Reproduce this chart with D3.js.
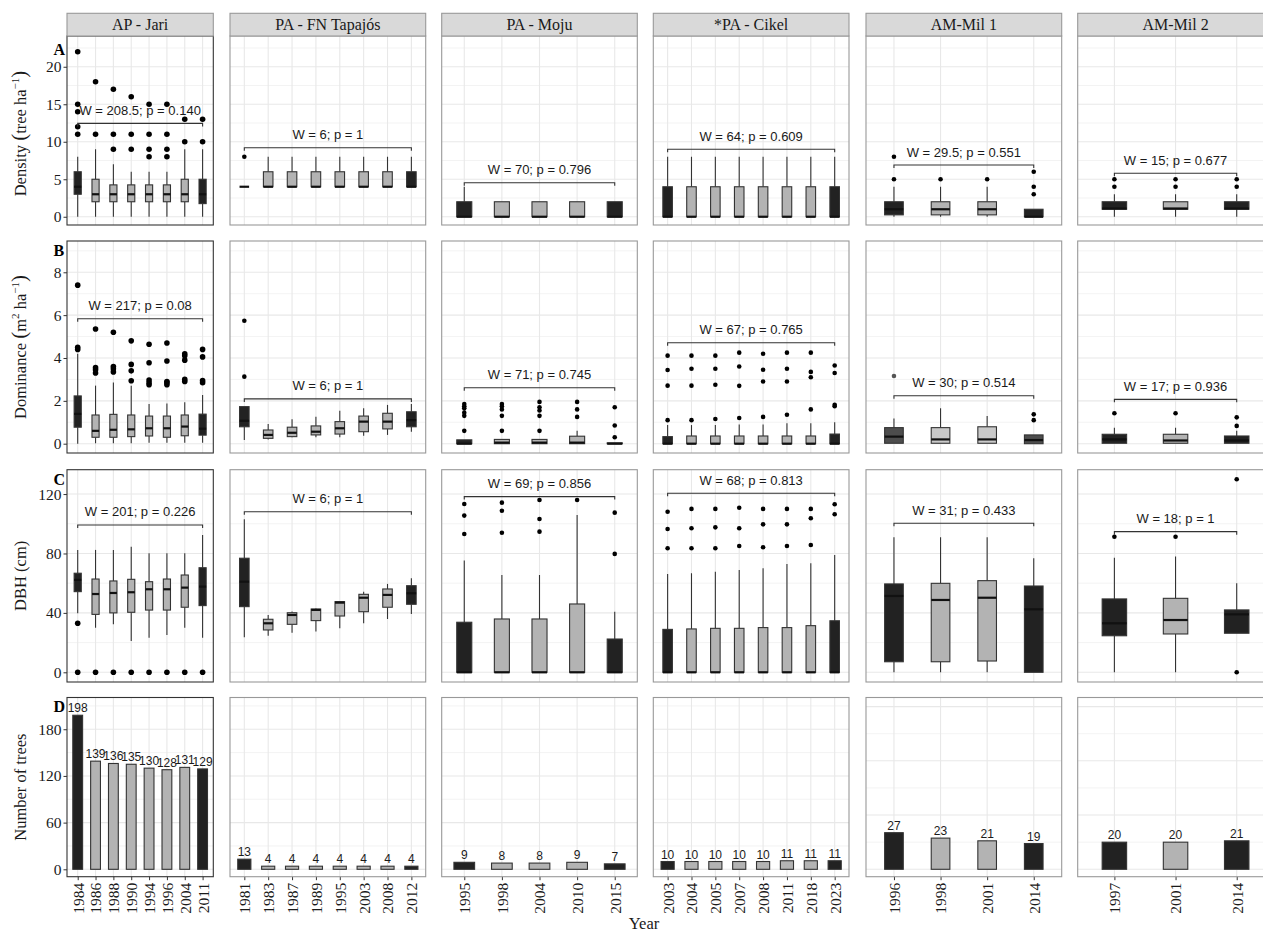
<!DOCTYPE html>
<html><head><meta charset="utf-8">
<script src="https://cdn.jsdelivr.net/npm/d3@7"></script>
<style>body{margin:0;background:#fff} svg{display:block}</style>
</head><body>
<svg id="chart" width="1263" height="932"></svg>
<script>
// ---------------- DATA ----------------
const sites = ["AP - Jari","PA - FN Tapajós","PA - Moju","*PA - Cikel","AM-Mil 1","AM-Mil 2"];
const years = [
  ["1984","1986","1988","1990","1994","1996","2004","2011"],
  ["1981","1983","1987","1989","1995","2003","2008","2012"],
  ["1995","1998","2004","2010","2015"],
  ["2003","2004","2005","2007","2008","2011","2018","2023"],
  ["1996","1998","2001","2014"],
  ["1997","2001","2014"]
];
// box stats: [whiskerLow, q1, median, q3, whiskerHigh, outliers]
const density = [
  [[0,3,4,6,8,[11,12,14,15,22]],[0,2,3,5,9,[11,18]],[0,2,3,4.25,7,[9,11,17]],[0,2,3,4.25,6,[9,11,16]],
   [0,2,3,4.25,6,[8,9,11,15]],[0,2,3,4.25,6,[8,9,11,15]],[0,2,3,5,9,[10,13]],[0,1.75,3,5,9,[10,13]]],
  [[4,4,4,4,4,[8]],[4,4,4,6,8,[]],[4,4,4,6,8,[]],[4,4,4,6,8,[]],[4,4,4,6,8,[]],[4,4,4,6,8,[]],[4,4,4,6,8,[]],[4,4,4,6,8,[]]],
  [[0,0,0,2,4,[]],[0,0,0,2,2,[]],[0,0,0,2,2,[]],[0,0,0,2,2,[]],[0,0,0,2,2,[]]],
  [[0,0,0,4,8,[]],[0,0,0,4,8,[]],[0,0,0,4,8,[]],[0,0,0,4,8,[]],[0,0,0,4,8,[]],[0,0,0,4,8,[]],[0,0,0,4,8,[]],[0,0,0,4,8,[]]],
  [[0,0.25,1,2,4,[5,8]],[0,0.25,1,2,4,[5]],[0,0.25,1,2,4,[5]],[0,0,0,1,1,[3,4,6]]],
  [[0,1,1.1,2,3,[4,5]],[0,1,1.1,2,3,[4,5]],[0,1,1.1,2,3,[4,5]]]
];
const dominance = [
  [[0,0.77,1.39,2.23,4.2,[4.4,4.5,7.4]],[0.02,0.3,0.6,1.34,2.71,[3.3,3.45,3.55,5.35]],
   [0.02,0.3,0.65,1.37,2.86,[3.35,3.5,3.6,5.2]],[0.02,0.33,0.67,1.34,2.71,[2.94,3.4,3.7,4.8]],
   [0.05,0.36,0.72,1.29,1.85,[2.75,2.85,2.97,3.78,4.64]],[0.05,0.3,0.72,1.29,1.88,[2.75,2.85,2.9,3.86,4.7]],
   [0.05,0.37,0.8,1.34,1.93,[2.9,3.0,3.9,4.1,4.2]],[0.05,0.4,0.7,1.38,2.27,[2.85,2.95,4.05,4.4]]],
  [[0.17,0.79,1.07,1.73,1.73,[3.13,5.74]],[0.2,0.25,0.41,0.64,0.92,[]],[0.3,0.33,0.51,0.77,1.14,[]],
   [0.3,0.41,0.56,0.83,1.26,[]],[0.3,0.45,0.72,1.03,1.54,[]],[0.37,0.56,1.03,1.29,1.65,[]],
   [0.41,0.69,1.03,1.42,1.81,[]],[0.56,0.79,1.1,1.49,1.85,[]]],
  [[0,0,0,0.18,0.18,[0.6,1.3,1.45,1.65,1.75,1.85]],[0,0,0.05,0.2,0.2,[0.6,1.3,1.6,1.75,1.85]],
   [0,0,0.05,0.2,0.2,[0.6,1.3,1.55,1.7,1.95]],[0,0,0.05,0.35,0.6,[1.25,1.6,1.95]],[0,0,0,0.04,0.04,[0.3,0.85,1.7]]],
  [[0,0,0,0.33,0.87,[1.1,2.71,3.44,4.11]],[0,0,0,0.36,0.87,[1.1,2.71,3.5,4.11]],[0,0,0,0.36,0.87,[1.15,2.75,3.5,4.11]],
   [0,0,0,0.36,0.9,[1.2,2.7,3.6,4.25]],[0,0,0,0.36,0.9,[1.25,2.9,3.45,4.2]],[0,0,0,0.36,0.95,[1.35,2.9,3.5,4.25]],
   [0,0,0,0.36,0.95,[1.6,3.1,3.35,4.25]],[0,0,0,0.45,1.0,[1.75,1.82,3.3,3.65]]],
  [[0.02,0.02,0.33,0.75,1.18,[3.16]],[0.02,0.02,0.2,0.75,1.65,[]],[0.02,0.02,0.2,0.79,1.29,[]],[0,0,0.17,0.41,0.41,[1.1,1.37]]],
  [[0.02,0.02,0.2,0.44,0.75,[1.42]],[0.02,0.02,0.15,0.44,0.75,[1.42]],[0.02,0.02,0.15,0.36,0.6,[0.83,1.23]]]
];
const dbh = [
  [[39.7,54.3,62.2,66.7,82.4,[0,33]],[30,39,52.7,62.8,82.4,[0]],[32.3,40,53.4,61.5,82.4,[0]],[21.1,40.4,53.9,62.6,84.6,[0]],
   [23.3,41.9,55.9,61,80.1,[0]],[25.1,41.9,55.9,62.8,80.1,[0]],[30,43.8,57,65.5,80.1,[0]],[23.3,44.9,57.7,70.4,92.5,[0]]],
  [[23.6,44.2,61,76.8,103,[]],[24.6,28.5,33,35.7,38.6,[]],[26.7,32.3,38.6,40.1,41,[]],[27.4,34.8,42,42.6,43,[]],
   [29.6,37.9,46.9,47.6,47.6,[]],[33,40.8,50.2,52.5,54.3,[]],[35.9,43.8,52.1,56.1,59.5,[]],[39.3,45.8,53.2,58.3,63.3,[]]],
  [[0,0,0,33.7,75.2,[93.1,105.5,113.3]],[0,0,0,35.9,65.5,[94,108.8,114.2]],[0,0,0,35.9,65.5,[94.7,103.2,116]],
   [0,0,0,46,105.9,[116]],[0,0,0,22.4,40.8,[79.7,107.5]]],
  [[0,0,0,28.9,66.2,[83.5,96.5,108.1]],[0,0,0,29.2,66.7,[83.5,97,110]],[0,0,0,29.6,67.7,[83.5,97.6,110]],
   [0,0,0,29.6,68.8,[85,97,110.8]],[0,0,0,30.1,70,[84.2,99.6,110]],[0,0,0,30.1,72.9,[85,99.6,110]],
   [0,0,0,31.4,73.4,[85.7,103.7,110]],[0,0,0,34.7,79,[106.4,113.1]]],
  [[0,7.1,51.4,59.5,90.9,[]],[0,7.1,48.7,59.9,90.9,[]],[0,7.6,50.2,61.7,90.9,[]],[0,0,42.4,58.1,76.8,[]]],
  [[0,24.6,33,49.4,77.2,[91.3]],[0,25.8,35.2,49.8,77.9,[91.3]],[26.3,26.3,39,42,59.9,[0,130]]]
];
const counts = [
  [198,139,136,135,130,128,131,129],
  [13,4,4,4,4,4,4,4],
  [9,8,8,9,7],
  [10,10,10,10,10,11,11,11],
  [27,23,21,19],
  [20,20,21]
];
const densityTests = ["W = 208.5; p = 0.140","W = 6; p = 1","W = 70; p = 0.796","W = 64; p = 0.609","W = 29.5; p = 0.551","W = 15; p = 0.677"];
const dominanceTests = ["W = 217; p = 0.08","W = 6; p = 1","W = 71; p = 0.745","W = 67; p = 0.765","W = 30; p = 0.514","W = 17; p = 0.936"];
const dbhTests = ["W = 201; p = 0.226","W = 6; p = 1","W = 69; p = 0.856","W = 68; p = 0.813","W = 31; p = 0.433","W = 18; p = 1"];
const densityBracket = [12.45, 9.2, 4.53, 9, 6.9, 5.8];
const dominanceBracket = [5.83, 2.09, 2.61, 4.71, 2.24, 2.07];
const dbhBracket = [99.2, 108.1, 118.3, 120.5, 100.3, 94.7];
const densityTicks = [0,5,10,15,20];
const dominanceTicks = [0,2,4,6,8];
const dbhTicks = [0,40,80,120];
const countTicks = [0,60,120,180];
const countTicksAM = [0,40,80,120];
const rowLetters = ["A","B","C","D"];

// ---------------- LAYOUT ----------------
const colRanges = [[67,213.3],[230,425.7],[441.7,637.3],[653.3,849],[866,1061.7],[1077.7,1273.4]];
const rowRanges = [[36,225],[241,453],[469.7,682],[697.5,876.7]];
const rowDomains = [[-1.1,24.1],[-0.434,9.46],[-6.53,136.4],[-9.5,220.8]];
const countDomainAM = [-5.46,126.7];
const letterBaselines = [55,256,485,712];
const strip = [13.3,36];
const serif = "'Liberation Serif','Times New Roman',serif";
const sans = "'Liberation Sans',Arial,sans-serif";
const DARK = "#222222", GRAY = "#b3b3b3";

const svg = d3.select("#chart");
svg.append("rect").attr("width",1263).attr("height",932).attr("fill","#fff");

const rowStats = [density, dominance, dbh];
const rowTests = [densityTests, dominanceTests, dbhTests];
const rowBrackets = [densityBracket, dominanceBracket, dbhBracket];
const rowTicks = [densityTicks, dominanceTicks, dbhTicks, countTicks];

function fillFor(r,c,i,n){
  const edge = (i===0 || i===n-1);
  if (r===1 && c===4) return edge ? "#4d4d4d" : "#c9c9c9";
  return edge ? DARK : GRAY;
}

for (let r=0;r<4;r++){
  for (let c=0;c<6;c++){
    const [x0,x1] = colRanges[c], [y0,y1] = rowRanges[r];
    const x = d3.scalePoint().domain(years[c]).range([x0,x1]).padding(0.6);
    const dom = (r===3 && c>=4) ? countDomainAM : rowDomains[r];
    const y = d3.scaleLinear().domain(dom).range([y1,y0]);
    const g = svg.append("g");
    g.append("rect").attr("x",x0).attr("y",y0).attr("width",x1-x0).attr("height",y1-y0).attr("fill","#fff");
    // grid
    const majors = (r===3 && c>=4) ? countTicksAM : rowTicks[r];
    const st = majors[1]-majors[0];
    const minors = [];
    for (let v = majors[0]-st/2; v<=dom[1]; v+=st) if (v>=dom[0]) minors.push(v);
    g.selectAll(".mn").data(minors).join("line")
      .attr("x1",x0).attr("x2",x1).attr("y1",d=>y(d)).attr("y2",d=>y(d))
      .attr("stroke","#eeeeee").attr("stroke-width",0.7);
    g.selectAll(".mj").data(majors).join("line")
      .attr("x1",x0).attr("x2",x1).attr("y1",d=>y(d)).attr("y2",d=>y(d))
      .attr("stroke","#e8e8e8").attr("stroke-width",1.1);
    g.selectAll(".vg").data(years[c]).join("line")
      .attr("x1",d=>x(d)).attr("x2",d=>x(d)).attr("y1",y0).attr("y2",y1)
      .attr("stroke","#e8e8e8").attr("stroke-width",1.1);

    const n = years[c].length;
    if (r<3){
      const stats = rowStats[r][c];
      const bw = x.step()*0.4;
      const rad = c===0 ? 2.8 : 2.3;
      stats.forEach((d,i)=>{
        const [lo,q1,med,q3,hi,out] = d;
        const cx = x(years[c][i]);
        const bg = g.append("g");
        if (hi>q3) bg.append("line").attr("x1",cx).attr("x2",cx).attr("y1",y(q3)).attr("y2",y(hi)).attr("stroke","#333").attr("stroke-width",1.1);
        if (lo<q1) bg.append("line").attr("x1",cx).attr("x2",cx).attr("y1",y(q1)).attr("y2",y(lo)).attr("stroke","#333").attr("stroke-width",1.1);
        bg.append("rect").attr("x",cx-bw/2).attr("width",bw).attr("y",y(q3)).attr("height",Math.max(0,y(q1)-y(q3)))
          .attr("fill",fillFor(r,c,i,n)).attr("stroke","#333").attr("stroke-width",1.1);
        bg.append("line").attr("x1",cx-bw/2).attr("x2",cx+bw/2).attr("y1",y(med)).attr("y2",y(med))
          .attr("stroke","#111").attr("stroke-width",2.2);
        bg.selectAll("circle").data(out).join("circle")
          .attr("cx",cx).attr("cy",v=>y(v)).attr("r",rad)
          .attr("fill",(r===1&&c===4&&i===0)?"#555":"#000");
      });
      // bracket + test label
      const by = y(rowBrackets[r][c]);
      const bx0 = x(years[c][0]), bx1 = x(years[c][n-1]);
      g.append("path").attr("d",`M${bx0},${by+3}V${by}H${bx1}V${by+3}`)
        .attr("fill","none").attr("stroke","#333").attr("stroke-width",1.1);
      g.append("text").attr("x",(bx0+bx1)/2).attr("y",by-8.5).attr("text-anchor","middle")
        .attr("font-family",sans).attr("font-size",13).attr("fill","#1a1a1a").text(rowTests[r][c]);
    } else {
      const bw = x.step()*(c>=4?0.4:0.55);
      const vals = counts[c];
      g.selectAll(".bar").data(vals).join("rect")
        .attr("x",(d,i)=>x(years[c][i])-bw/2).attr("width",bw)
        .attr("y",d=>y(d)).attr("height",d=>y(0)-y(d))
        .attr("fill",(d,i)=>fillFor(r,c,i,n)).attr("stroke","#333").attr("stroke-width",1.1);
      g.selectAll(".bl").data(vals).join("text")
        .attr("x",(d,i)=>x(years[c][i])).attr("y",d=>y(d)-3).attr("text-anchor","middle")
        .attr("font-family",sans).attr("font-size",12).attr("fill","#1a1a1a").text(d=>d);
      // x axis
      const ax = g.append("g").attr("transform",`translate(0,${y1})`)
        .call(d3.axisBottom(x).tickSize(3.5).tickPadding(2));
      ax.select(".domain").remove();
      ax.selectAll(".tick line").attr("stroke","#333");
      ax.selectAll(".tick text").attr("transform","rotate(-90)").attr("x",-6).attr("y",0).attr("dy","0.35em")
        .style("text-anchor","end").attr("font-family",serif).attr("font-size",15.5).attr("fill","#1a1a1a");
    }
    // border
    g.append("rect").attr("x",x0).attr("y",y0).attr("width",x1-x0).attr("height",y1-y0)
      .attr("fill","none").attr("stroke",c===0?"#333":"#999").attr("stroke-width",1.1);
    // y axis on first column
    if (c===0){
      const ay = g.append("g").attr("transform",`translate(${x0},0)`)
        .call(d3.axisLeft(y).tickValues(rowTicks[r]).tickSize(3.5).tickPadding(2));
      ay.select(".domain").remove();
      ay.selectAll(".tick line").attr("stroke","#333");
      ay.selectAll(".tick text").attr("font-family",serif).attr("font-size",15.5).attr("fill","#1a1a1a");
      g.append("text").attr("x",53.5).attr("y",letterBaselines[r]).attr("font-family",serif).attr("font-weight","bold")
        .attr("font-size",16).attr("fill","#000").text(rowLetters[r]);
    }
    // strip
    if (r===0){
      svg.append("rect").attr("x",x0).attr("y",strip[0]).attr("width",x1-x0).attr("height",strip[1]-strip[0])
        .attr("fill","#d9d9d9").attr("stroke","#999").attr("stroke-width",1.1);
      svg.append("text").attr("x",(x0+x1)/2).attr("y",strip[1]-6.5).attr("text-anchor","middle")
        .attr("font-family",serif).attr("font-size",16).attr("fill","#1a1a1a").text(sites[c]);
    }
  }
}

// y-axis titles
function yTitle(cx, cy, parts){
  const t = svg.append("text").attr("transform",`translate(${cx},${cy}) rotate(-90)`)
    .attr("text-anchor","middle").attr("font-family",serif).attr("font-size",16.5).attr("fill","#1a1a1a");
  parts.forEach(p=>{
    const s = t.append("tspan").text(p.t);
    if (p.sup) s.attr("font-size",11).attr("dy",-7);
    if (p.down) s.attr("dy",7);
    if (p.big) s.attr("font-size",21);
  });
}
yTitle(26,(rowRanges[0][0]+rowRanges[0][1])/2+3,[{t:"Density  "},{t:"(",big:1},{t:"tree ha"},{t:"−1",sup:1},{t:")",big:1,down:1}]);
yTitle(26,(rowRanges[1][0]+rowRanges[1][1])/2,[{t:"Dominance  "},{t:"(",big:1},{t:"m"},{t:"2",sup:1},{t:" ha",down:1},{t:"−1",sup:1},{t:")",big:1,down:1}]);
yTitle(26,(rowRanges[2][0]+rowRanges[2][1])/2,[{t:"DBH (cm)"}]);
yTitle(26,(rowRanges[3][0]+rowRanges[3][1])/2,[{t:"Number of trees"}]);

svg.append("text").attr("x",644).attr("y",929).attr("text-anchor","middle")
  .attr("font-family",serif).attr("font-size",16.5).attr("fill","#1a1a1a").text("Year");
</script>
</body></html>
